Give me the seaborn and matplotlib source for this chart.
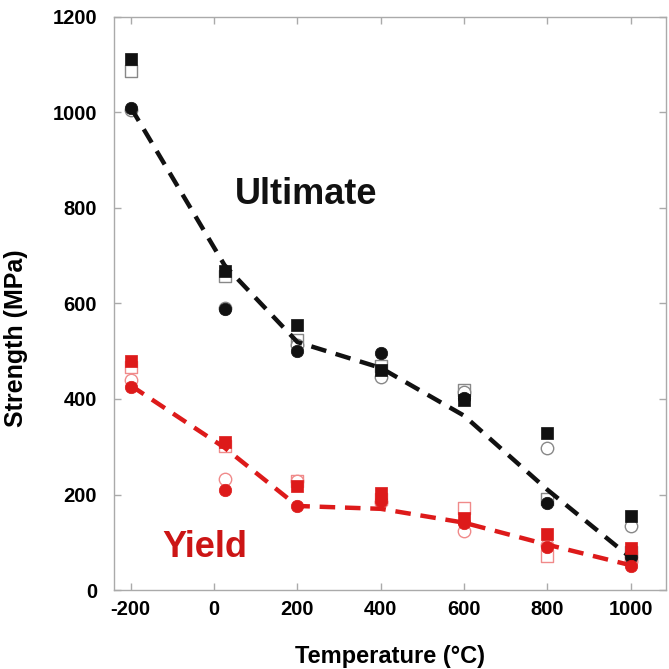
import numpy as np
import matplotlib
matplotlib.use("Agg")
import matplotlib.pyplot as plt
import seaborn as sns

# test temperatures (deg C)
temps = [-200, 25, 200, 400, 600, 800, 1000]

# ultimate tensile strength (MPa)
uts_fill_sq = [1111, 668, 555, 460, 397, 328, 155]
uts_open_sq = [1086, 657, 523, 470, 418, 191, 80]
uts_fill_ci = [1010, 588, 500, 496, 402, 183, 70]
uts_open_ci = [1005, 590, 512, 445, 414, 298, 134]
uts_fit = [1010, 680, 519, 465, 365, 210, 68]

# yield strength (MPa)
ys_fill_sq = [479, 309, 218, 204, 151, 117, 88]
ys_open_sq = [466, 302, 229, 190, 172, 71, 70]
ys_fill_ci = [426, 210, 176, 187, 141, 90, 50]
ys_open_ci = [439, 233, 229, 185, 124, 95, 60]
ys_fit = [428, 298, 176, 170, 141, 95, 52]

xticks = [-200, 0, 200, 400, 600, 800, 1000]
yticks = [0, 200, 400, 600, 800, 1000, 1200]

BLACK = "#111111"
RED = "#dd1a1a"

sns.set_style("ticks")
plt.rcParams["font.family"] = ["Liberation Sans", "DejaVu Sans"]
plt.rcParams["font.weight"] = "bold"
plt.rcParams["axes.unicode_minus"] = False

fig = plt.figure(figsize=(6.69, 6.69), dpi=100)
ax = fig.add_axes([0.170, 0.118, 0.825, 0.857])

# open markers go underneath
for vals, mk, col, edge in [
    (uts_open_sq, "s", BLACK, "#888888"),
    (uts_open_ci, "o", BLACK, "#888888"),
    (ys_open_sq, "s", RED, "#f08a8a"),
    (ys_open_ci, "o", RED, "#f08a8a"),
]:
    sns.scatterplot(x=temps, y=vals, marker=mk, s=80, color="white",
                    edgecolor=edge, linewidth=1.0, ax=ax, zorder=2)

sns.lineplot(x=temps, y=uts_fit, color=BLACK, lw=3.2, ax=ax, zorder=3,
             dashes=False).lines[-1].set_dashes((3.5, 2.2))
sns.lineplot(x=temps, y=ys_fit, color=RED, lw=3.2, ax=ax, zorder=3,
             dashes=False).lines[-1].set_dashes((3.5, 2.2))

for vals, mk, col in [
    (uts_fill_ci, "o", BLACK),
    (uts_fill_sq, "s", BLACK),
    (ys_fill_ci, "o", RED),
    (ys_fill_sq, "s", RED),
]:
    sns.scatterplot(x=temps, y=vals, marker=mk, s=80, color=col,
                    edgecolor=col, linewidth=0.5, ax=ax, zorder=4)

ax.text(222, 828, "Ultimate", color=BLACK, fontsize=26, fontweight="bold",
        ha="center", va="center")
ax.text(-22, 90, "Yield", color="#cc1515", fontsize=26, fontweight="bold",
        ha="center", va="center")

ax.set_xlim(-241, 1084)
ax.set_ylim(0, 1200)
ax.set_xticks(xticks)
ax.set_yticks(yticks)
ax.set_xlabel("Temperature (°C)", fontsize=17, fontweight="bold",
              labelpad=19, color="black")
ax.set_ylabel("Strength (MPa)", fontsize=18, fontweight="bold",
              color="black")
ax.yaxis.set_label_coords(-0.156, 0.44)
ax.tick_params(direction="in", top=True, right=True, length=5, width=1,
               color="#aaaaaa", labelsize=14.5, labelcolor="black")
ax.tick_params(axis="y", pad=12)
ax.tick_params(axis="x", pad=7)
for lab in ax.get_xticklabels() + ax.get_yticklabels():
    lab.set_fontweight("bold")
for sp in ax.spines.values():
    sp.set_color("#aaaaaa")
    sp.set_linewidth(1)
    sp.set_visible(True)

fig.savefig("out.png", dpi=100)
